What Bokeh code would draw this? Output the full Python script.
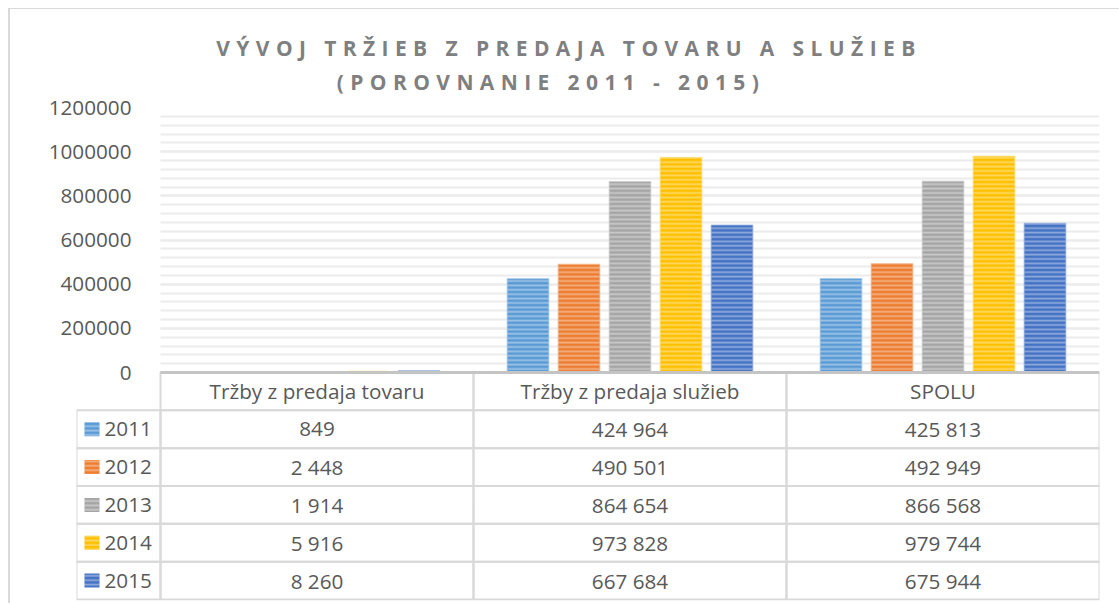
from bokeh.plotting import figure
from bokeh.models import Range1d, FixedTicker, BasicTickFormatter, Div
from bokeh.layouts import column, row
from bokeh.embed import file_html
from bokeh.resources import INLINE
from bokeh.core.properties import value

# ---------------- data ----------------
title_line1 = "VÝVOJ TRŽIEB Z PREDAJA TOVARU A SLUŽIEB"
title_line2 = "(POROVNANIE 2011 - 2015)"
categories = ["Tržby z predaja tovaru", "Tržby z predaja služieb", "SPOLU"]
years = ["2011", "2012", "2013", "2014", "2015"]
v2011 = [849, 424964, 425813]
v2012 = [2448, 490501, 492949]
v2013 = [1914, 864654, 866568]
v2014 = [5916, 973828, 979744]
v2015 = [8260, 667684, 675944]
y_ticks = [0, 200000, 400000, 600000, 800000, 1000000, 1200000]
grid_step = 40000
colors = ["#5B9BD5", "#ED7D31", "#A5A5A5", "#FFC000", "#4472C4"]

series = [v2011, v2012, v2013, v2014, v2015]

# ---------------- geometry ----------------
FONT = "Open Sans"
TXT = "#595959"
LINE = "#d9d9d9"
FS = "20.7px"
Y_MAX = y_ticks[-1]
NCAT = len(categories)
CHART_PX = 265.0          # pixels from 0 to Y_MAX
N_ROWS = len(years) + 1
TABLE_PX = 227.0
ROW_PX = TABLE_PX / N_ROWS
COL_PX = 313.0            # pixels per category column
UNIT = Y_MAX / CHART_PX   # data units per pixel
ROW_H = ROW_PX * UNIT
BAR_PITCH = 51.0 / COL_PX
BAR_W = 41.7 / COL_PX
LEG_L = -84.0 / COL_PX    # left edge of legend column
SW_L = -76.0 / COL_PX
SW_R = -61.0 / COL_PX
LAB_X = -56.0 / COL_PX


def tint(hex_color, f):
    h = hex_color.lstrip("#")
    r, g, b = (int(h[i:i + 2], 16) for i in (0, 2, 4))
    r, g, b = (int(c + (255 - c) * f) for c in (r, g, b))
    return "#%02x%02x%02x" % (r, g, b)


def fmt(v):
    return f"{v:,}".replace(",", " ")


HATCH = dict(hatch_pattern="horizontal_line", hatch_color="white",
             hatch_alpha=0.38, hatch_scale=4.4, hatch_weight=1.8)

p = figure(width=1109, height=510,
           x_range=Range1d(LEG_L, NCAT),
           y_range=Range1d(-(TABLE_PX + 1) * UNIT, Y_MAX),
           x_axis_type=None,
           output_backend="svg", toolbar_location=None,
           min_border_left=66, min_border_right=20,
           min_border_top=14, min_border_bottom=3)
p.outline_line_color = None
p.background_fill_color = "white"
p.border_fill_color = "white"

yaxis = p.yaxis[0]
yaxis.ticker = FixedTicker(ticks=y_ticks,
                           minor_ticks=list(range(0, Y_MAX + 1, grid_step)))
yaxis.formatter = BasicTickFormatter(use_scientific=False)
yaxis.bounds = (0, Y_MAX)
yaxis.axis_line_color = None
yaxis.major_tick_line_color = None
yaxis.minor_tick_line_color = None
yaxis.major_label_text_font = FONT
yaxis.major_label_text_font_size = FS
yaxis.major_label_text_color = TXT
yaxis.major_label_standoff = -61

grid = p.ygrid[0]
grid.bounds = (0, Y_MAX)
grid.grid_line_color = "#ececec"
grid.grid_line_width = 2
grid.minor_grid_line_color = "#ececec"
grid.minor_grid_line_width = 2
try:
    grid.cross_bounds = (0, NCAT)
except Exception:
    grid.visible = False
    gl = list(range(0, Y_MAX + 1, grid_step))
    p.segment(x0=[0] * len(gl), y0=gl, x1=[NCAT] * len(gl), y1=gl,
              line_color="#ececec", line_width=2)

# ---------------- bars ----------------
for j, (yr, vals, col) in enumerate(zip(years, series, colors)):
    xs = [i + 0.5 + (j - 2) * BAR_PITCH for i in range(NCAT)]
    p.vbar(x=xs, top=vals, bottom=0, width=BAR_W,
           fill_color=col, line_color=tint(col, 0.45), line_width=0.8,
           **HATCH)

# ---------------- data table ----------------
for r in range(N_ROWS):
    top = -ROW_H * r
    bottom = -ROW_H * (r + 1)
    p.quad(left=list(range(NCAT)), right=[i + 1 for i in range(NCAT)],
           top=top, bottom=bottom,
           fill_color=None, line_color=LINE, line_width=2)

# x axis line
p.segment(x0=[0], y0=[0], x1=[NCAT], y1=[0],
          line_color="#c4c4c4", line_width=3.2)

# header texts
p.text(x=[i + 0.5 for i in range(NCAT)],
       y=[-ROW_H * 0.5] * NCAT, text=categories,
       text_align="center", text_baseline="middle",
       text_font=value(FONT), text_font_size=FS, text_color=TXT)

# values
for j, vals in enumerate(series):
    yc = -ROW_H * (j + 1.5)
    p.text(x=[i + 0.5 for i in range(NCAT)],
           y=[yc] * len(vals), text=[fmt(v) for v in vals],
           text_align="center", text_baseline="middle",
           text_font=value(FONT), text_font_size=FS, text_color=TXT)

# legend column
row_top = [-ROW_H * (j + 1) for j in range(len(years))]
row_bot = [-ROW_H * (j + 2) for j in range(len(years))]
row_mid = [-ROW_H * (j + 1.5) for j in range(len(years))]
p.quad(left=LEG_L, right=0, top=row_top, bottom=row_bot,
       fill_color=None, line_color=LINE, line_width=2)
p.quad(left=SW_L, right=SW_R,
       top=[m + 7 * UNIT for m in row_mid],
       bottom=[m - 7 * UNIT for m in row_mid],
       fill_color=colors, line_color=None, **HATCH)
p.text(x=[LAB_X] * len(years), y=row_mid, text=years,
       text_align="left", text_baseline="middle",
       text_font=value(FONT), text_font_size=FS, text_color=TXT)

# ---------------- title & frame border ----------------
title_html = (
    '<div style="margin-top:8px;border-top:1.5px solid #d9d9d9;width:1109px;'
    'height:84px;font-family:\'Open Sans\';font-weight:bold;font-size:21px;'
    'letter-spacing:6.4px;color:#7f7f7f;line-height:34px;">'
    '<div style="padding-top:21.5px;padding-left:9px;text-align:center;">'
    f'{title_line1}</div>'
    '<div style="padding-right:27px;text-align:center;">'
    f'{title_line2}</div></div>'
)
title = Div(text=title_html, width=1109, height=93, margin=0)
left_border = Div(
    text='<div style="margin-left:8px;margin-top:8px;width:1.5px;'
         'height:595px;background:#d9d9d9;"></div>',
    width=10, height=603, margin=0)

layout = row(left_border, column(title, p, spacing=0), spacing=0)

with open("out.html", "w", encoding="utf-8") as f:
    f.write(file_html(layout, INLINE, title="Vývoj tržieb"))
